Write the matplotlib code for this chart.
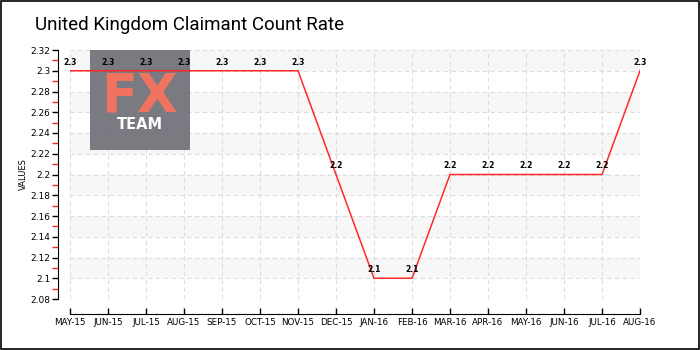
import matplotlib
matplotlib.use('Agg')
import matplotlib.pyplot as plt
from matplotlib.patches import Rectangle
import numpy as np

### (0) Data
months = ['MAY-15', 'JUN-15', 'JUL-15', 'AUG-15', 'SEP-15', 'OCT-15', 'NOV-15', 'DEC-15',
          'JAN-16', 'FEB-16', 'MAR-16', 'APR-16', 'MAY-16', 'JUN-16', 'JUL-16', 'AUG-16']
rate = [2.3, 2.3, 2.3, 2.3, 2.3, 2.3, 2.3, 2.2, 2.1, 2.1, 2.2, 2.2, 2.2, 2.2, 2.2, 2.3]
y_ticks = [2.08, 2.10, 2.12, 2.14, 2.16, 2.18, 2.20, 2.22, 2.24, 2.26, 2.28, 2.30, 2.32]
y_tick_labels = ['2.08', '2.1', '2.12', '2.14', '2.16', '2.18', '2.2', '2.22', '2.24', '2.26', '2.28', '2.3', '2.32']
title = 'United Kingdom Claimant Count Rate'

### (1) Figure
fig = plt.figure(figsize=(7, 3.5), dpi=100)
fig.patch.set_facecolor('white')
fig.patches.append(Rectangle((0.001, 0.002), 0.997, 0.995, transform=fig.transFigure,
                             fill=False, edgecolor='black', linewidth=1.2))
fig.text(35/700, 1 - 30/350, title, fontsize=13.5, color='black', family='Roboto',
         ha='left', va='baseline')

ax1 = fig.add_axes([70/700, 51/350, 570/700, 249/350])
x = np.arange(len(months))

# alternating horizontal bands
for k in range(len(y_ticks) - 1):
    if k % 2 == 1:
        ax1.axhspan(y_ticks[k], y_ticks[k+1], color='#f7f7f7', zorder=0, lw=0)

ax1.set_axisbelow(True)
ax1.grid(which='major', color='#dddddd', linestyle=(0, (4, 3)), linewidth=0.8)

# logo, drawn inside the axes so the line and labels sit on top
ax1.add_patch(Rectangle((90/700, 200/350), 100/700, 100/350, transform=fig.transFigure,
                        facecolor='#73737b', alpha=0.95, edgecolor='none', zorder=1.5, clip_on=False))
ax1.text(139/700, 1 - 111/350, 'FX', fontsize=38, color='#f0735f', fontweight='bold',
         ha='center', va='baseline', zorder=1.6, transform=fig.transFigure)
ax1.text(140/700, 1 - 129/350, 'TEAM', fontsize=10.5, color='white', fontweight='bold',
         ha='center', va='baseline', zorder=1.6, transform=fig.transFigure)

ax1.plot(x, rate, color='#ff2a2a', linewidth=1.1, zorder=3)
for i in range(len(x)):
    ax1.annotate('{}'.format(rate[i]), (x[i], rate[i]), xytext=(0, 3), textcoords='offset points',
                 ha='center', va='bottom', fontsize=5.5, fontweight='bold', color='black', zorder=4)

ax1.set_xlim(0, len(months) - 1)
ax1.set_ylim(2.08, 2.32)
ax1.set_xticks(x)
ax1.set_xticklabels(months)
ax1.set_yticks(y_ticks)
ax1.set_yticklabels(y_tick_labels)
ax1.set_yticks(np.arange(2.09, 2.32, 0.02), minor=True)
ax1.tick_params(axis='y', which='major', direction='out', length=4, width=1, color='black',
                pad=1, labelsize=6.5)
ax1.tick_params(axis='y', which='minor', direction='out', length=4, width=1, color='#ff2020')
ax1.tick_params(axis='x', which='major', direction='in', length=4, width=1, color='black',
                pad=3, labelsize=6.3)
ax1.set_ylabel('VALUES', fontsize=6, labelpad=2)

for s in ['top', 'right']:
    ax1.spines[s].set_visible(False)
ax1.spines['left'].set_position(('outward', 9))
ax1.spines['bottom'].set_position(('outward', 11))
ax1.spines['left'].set_bounds(2.08, 2.32)
ax1.spines['bottom'].set_bounds(0, len(months) - 1)

fig.savefig('out.png', dpi=100)
